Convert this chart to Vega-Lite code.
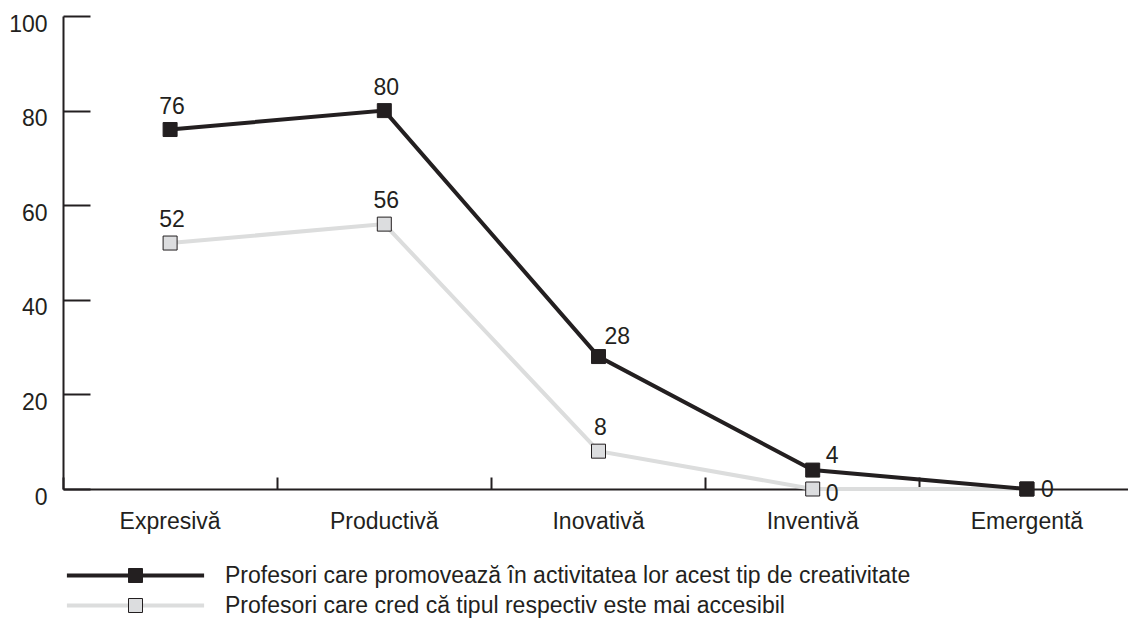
{
  "$schema": "https://vega.github.io/schema/vega-lite/v6.json",
  "width": 1065,
  "height": 473,
  "autosize": {"type": "none"},
  "padding": {"left": 63, "top": 16, "right": 0, "bottom": 137},
  "background": "white",
  "config": {
    "view": {"stroke": null},
    "font": "Liberation Sans",
    "text": {"font": "Liberation Sans"}
  },
  "data": {
    "values": [
      {"cat": "Expresivă", "series": "Profesori care cred că tipul respectiv este mai accesibil", "value": 52},
      {"cat": "Productivă", "series": "Profesori care cred că tipul respectiv este mai accesibil", "value": 56},
      {"cat": "Inovativă", "series": "Profesori care cred că tipul respectiv este mai accesibil", "value": 8},
      {"cat": "Inventivă", "series": "Profesori care cred că tipul respectiv este mai accesibil", "value": 0},
      {"cat": "Emergentă", "series": "Profesori care cred că tipul respectiv este mai accesibil", "value": 0},
      {"cat": "Expresivă", "series": "Profesori care promovează în activitatea lor acest tip de creativitate", "value": 76},
      {"cat": "Productivă", "series": "Profesori care promovează în activitatea lor acest tip de creativitate", "value": 80},
      {"cat": "Inovativă", "series": "Profesori care promovează în activitatea lor acest tip de creativitate", "value": 28},
      {"cat": "Inventivă", "series": "Profesori care promovează în activitatea lor acest tip de creativitate", "value": 4},
      {"cat": "Emergentă", "series": "Profesori care promovează în activitatea lor acest tip de creativitate", "value": 0}
    ]
  },
  "encoding": {
    "x": {
      "field": "cat",
      "type": "nominal",
      "sort": ["Expresivă", "Productivă", "Inovativă", "Inventivă", "Emergentă"],
      "scale": {"type": "band", "range": [0, 1071], "paddingInner": 0, "paddingOuter": 0},
      "axis": {
        "title": null,
        "bandPosition": 0,
        "grid": false,
        "labelAngle": 0,
        "tickSize": -12,
        "tickWidth": 2,
        "tickColor": "#231f20",
        "domainColor": "#231f20",
        "domainWidth": 2,
        "labelFontSize": 23,
        "labelFont": "Liberation Sans",
        "labelColor": "#231f20",
        "labelPadding": 33,
        "labelAlign": "center",
        "labelBaseline": "top"
      }
    },
    "y": {
      "field": "value",
      "type": "quantitative",
      "scale": {"domain": [0, 100], "nice": false, "zero": true},
      "axis": {
        "title": null,
        "values": [0, 20, 40, 60, 80, 100],
        "grid": false,
        "tickSize": -27,
        "tickWidth": 2,
        "tickColor": "#231f20",
        "domainColor": "#231f20",
        "domainWidth": 2,
        "labelFontSize": 23,
        "labelFont": "Liberation Sans",
        "labelColor": "#231f20",
        "labelPadding": 43,
        "labelOffset": 8
      }
    }
  },
  "layer": [
    {
      "mark": {"type": "line", "strokeWidth": 4},
      "encoding": {
        "stroke": {
          "field": "series",
          "type": "nominal",
          "scale": {
            "domain": ["Profesori care promovează în activitatea lor acest tip de creativitate", "Profesori care cred că tipul respectiv este mai accesibil"],
            "range": ["#231f20", "#dcdddd"]
          },
          "legend": {
            "title": null,
            "orient": "none",
            "legendX": 61,
            "legendY": 548,
            "padding": 0,
            "symbolType": "M-9.8,0H9.8",
            "symbolSize": 196,
            "symbolStrokeWidth": 4,
            "symbolFillColor": "transparent",
            "labelOffset": 78,
            "labelFontSize": 23,
            "labelFont": "Liberation Sans",
            "labelColor": "#231f20",
            "labelLimit": 1000,
            "rowPadding": 6
          }
        }
      }
    },
    {
      "mark": {"type": "point", "shape": "square", "filled": true, "size": 196, "stroke": "#231f20", "strokeWidth": 1, "opacity": 1},
      "encoding": {
        "fill": {
          "field": "series",
          "type": "nominal",
          "scale": {
            "domain": ["Profesori care promovează în activitatea lor acest tip de creativitate", "Profesori care cred că tipul respectiv este mai accesibil", "—"],
            "range": ["#231f20", "#dcdddf", "#ffffff"]
          },
          "legend": {
            "title": null,
            "orient": "none",
            "legendX": 61,
            "legendY": 548,
            "padding": 0,
            "values": ["Profesori care promovează în activitatea lor acest tip de creativitate", "Profesori care cred că tipul respectiv este mai accesibil"],
            "symbolType": "square",
            "symbolSize": 196,
            "symbolStrokeColor": "#231f20",
            "symbolStrokeWidth": 1,
            "symbolOpacity": 1,
            "labelOffset": 78,
            "labelFontSize": 23,
            "labelFont": "Liberation Sans",
            "labelOpacity": 0,
            "labelLimit": 1000,
            "rowPadding": 6
          }
        }
      }
    },
    {
      "transform": [{"filter": "(datum.value >= 50) || (datum.cat == 'Inovativă' && datum.value < 10)"}],
      "mark": {"type": "text", "align": "center", "baseline": "alphabetic", "dx": 2, "dy": -16, "fontSize": 23, "color": "#231f20"},
      "encoding": {"text": {"field": "value", "type": "quantitative"}}
    },
    {
      "transform": [{"filter": "datum.cat == 'Inovativă' && datum.value > 10"}],
      "mark": {"type": "text", "align": "left", "baseline": "alphabetic", "dx": 6, "dy": -13, "fontSize": 23, "color": "#231f20"},
      "encoding": {"text": {"field": "value", "type": "quantitative"}}
    },
    {
      "transform": [{"filter": "datum.cat == 'Inventivă' && datum.value > 0"}],
      "mark": {"type": "text", "align": "left", "baseline": "alphabetic", "dx": 13, "dy": -7, "fontSize": 23, "color": "#231f20"},
      "encoding": {"text": {"field": "value", "type": "quantitative"}}
    },
    {
      "transform": [{"filter": "datum.cat == 'Inventivă' && datum.value == 0"}],
      "mark": {"type": "text", "align": "left", "baseline": "alphabetic", "dx": 13, "dy": 12, "fontSize": 23, "color": "#231f20"},
      "encoding": {"text": {"field": "value", "type": "quantitative"}}
    },
    {
      "transform": [{"filter": "datum.cat == 'Emergentă' && datum.series == 'Profesori care promovează în activitatea lor acest tip de creativitate'"}],
      "mark": {"type": "text", "align": "left", "baseline": "alphabetic", "dx": 14, "dy": 8, "fontSize": 23, "color": "#231f20"},
      "encoding": {"text": {"field": "value", "type": "quantitative"}}
    }
  ]
}
